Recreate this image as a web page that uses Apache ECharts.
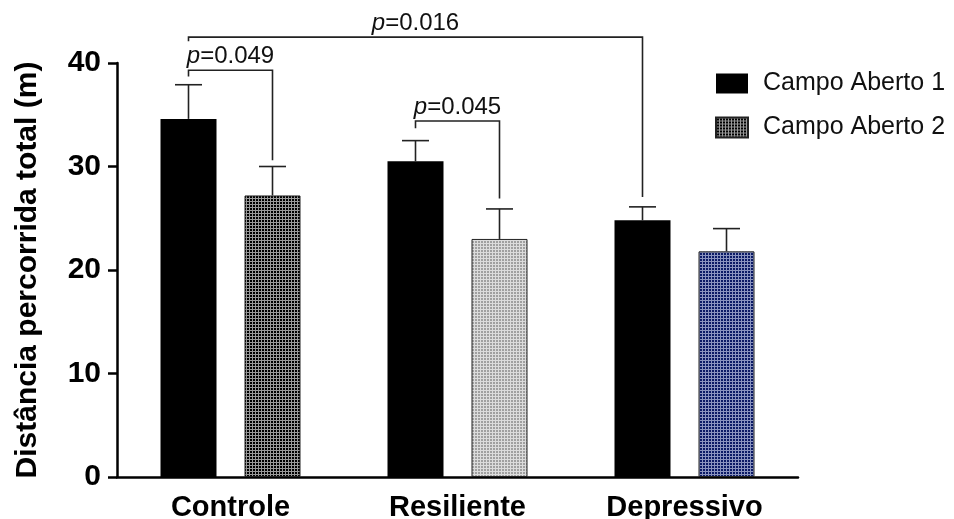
<!DOCTYPE html>
<html>
<head>
<meta charset="utf-8">
<script src="https://cdn.jsdelivr.net/npm/echarts@6/dist/echarts.min.js"></script>
<style>
  html, body { margin: 0; padding: 0; background: #fff; }
  #chart { width: 954px; height: 519px; }
</style>
</head>
<body>
<div id="chart"></div>
<script>
// Group labels and series values (distance in metres, mean and SEM)
var categories = ['Controle', 'Resiliente', 'Depressivo'];
var seriesNames = ['Campo Aberto 1', 'Campo Aberto 2'];
var campo1Mean = [34.6, 30.5, 24.8];
var campo1Sem = [3.3, 2.0, 1.3];
var campo2Mean = [27.2, 23.0, 21.8];
var campo2Sem = [2.8, 2.9, 2.2];
var yTicks = [0, 10, 20, 30, 40];

// Significance brackets: [category, bar] at each end, bracket level, leg ends, label
var bracketFrom = [[0, 0], [1, 0], [0, 0]];
var bracketTo = [[0, 1], [1, 1], [2, 0]];
var bracketLevel = [39.3, 34.4, 42.5];
var bracketFromEnd = [38.7, 33.7, 42.1];
var bracketToEnd = [30.6, 26.9, 27.05];
var bracketText = ['0.049', '0.045', '0.016'];

var FONT = '"Liberation Sans", Arial, Helvetica, sans-serif';
var BAR_W = 56;
var BAR_OFFSET = 42; // half of bar width plus half of the gap between paired bars

// Dotted checker fill used for the second session bars
function checker(fg, mid, bg) {
  var c = document.createElement('canvas');
  c.width = 3; c.height = 3;
  var ctx = c.getContext('2d');
  ctx.fillStyle = bg;
  ctx.fillRect(0, 0, 3, 3);
  ctx.fillStyle = mid;
  ctx.fillRect(0, 0, 3, 1);
  ctx.fillRect(0, 0, 1, 3);
  ctx.fillStyle = fg;
  ctx.fillRect(1, 1, 2, 2);
  return { image: c, repeat: 'repeat' };
}
var fillControle = checker('#000000', '#9a9a9a', '#ffffff');
var fillResiliente = checker('#a0a0a0', '#dcdcdc', '#ffffff');
var fillDepressivo = checker('#0b1a66', '#8a93bf', '#ffffff');
var campo2Fills = [fillControle, fillResiliente, fillDepressivo];

var chart = echarts.init(document.getElementById('chart'));

var errorData = [];
for (var k = 0; k < categories.length; k++) {
  errorData.push([k, 0, campo1Mean[k], campo1Sem[k]]);
  errorData.push([k, 1, campo2Mean[k], campo2Sem[k]]);
}

var bracketData = bracketText.map(function (t, i) {
  return [bracketFrom[i][0], bracketFrom[i][1], bracketTo[i][0], bracketTo[i][1],
          bracketLevel[i], bracketFromEnd[i], bracketToEnd[i], i];
});

function barX(api, cat, side) {
  var p = api.coord([cat, 0]);
  return p[0] + (side === 0 ? -BAR_OFFSET : BAR_OFFSET);
}

chart.setOption({
  animation: false,
  backgroundColor: '#ffffff',
  textStyle: { fontFamily: FONT },
  grid: { left: 117, right: 156, top: 63, bottom: 42, containLabel: false, outerBoundsMode: 'none' },
  legend: {
    orient: 'vertical',
    left: 715,
    top: 71,
    padding: 0,
    itemWidth: 32,
    itemHeight: 20,
    itemGap: 19,
    selectedMode: false,
    icon: 'rect',
    data: seriesNames,
    textStyle: { fontFamily: FONT, fontSize: 25, color: '#111', padding: [0, 0, 0, 10] }
  },
  xAxis: {
    type: 'category',
    data: categories,
    axisLine: { lineStyle: { color: '#000', width: 2.5 } },
    axisTick: { alignWithLabel: true, length: 8, lineStyle: { color: '#000', width: 2 } },
    axisLabel: { fontFamily: FONT, fontSize: 29, fontWeight: 'bold', color: '#000', margin: 16 }
  },
  yAxis: {
    type: 'value',
    min: yTicks[0],
    max: yTicks[yTicks.length - 1],
    interval: 10,
    name: 'Distância percorrida total (m)',
    nameLocation: 'middle',
    nameGap: 74,
    nameTextStyle: { fontFamily: FONT, fontSize: 30, fontWeight: 'bold', color: '#000' },
    axisLine: { show: true, lineStyle: { color: '#000', width: 2.5 } },
    axisTick: { show: true, length: 9, lineStyle: { color: '#000', width: 2.5 } },
    axisLabel: { fontFamily: FONT, fontSize: 30, fontWeight: 'bold', color: '#000', margin: 16 },
    splitLine: { show: false }
  },
  series: [
    {
      name: seriesNames[0],
      type: 'bar',
      barWidth: BAR_W,
      barGap: '50%',
      data: campo1Mean,
      itemStyle: { color: '#000000' }
    },
    {
      name: seriesNames[1],
      type: 'bar',
      barWidth: BAR_W,
      data: campo2Mean.map(function (v, i) {
        return { value: v, itemStyle: { color: campo2Fills[i] } };
      }),
      itemStyle: { color: fillControle, borderColor: '#222', borderWidth: 1 }
    },
    {
      name: 'sem',
      type: 'custom',
      clip: false,
      z: 5,
      data: errorData,
      encode: { x: 0, y: 2 },
      renderItem: function (params, api) {
        var cat = api.value(0), side = api.value(1);
        var mean = api.value(2), sem = api.value(3);
        var x = barX(api, cat, side);
        var y0 = api.coord([cat, mean])[1];
        var y1 = api.coord([cat, mean + sem])[1];
        var style = { stroke: '#222', lineWidth: 1.6, fill: null };
        return {
          type: 'group',
          children: [
            { type: 'line', shape: { x1: x, y1: y0, x2: x, y2: y1 }, style: style },
            { type: 'line', shape: { x1: x - 13.5, y1: y1, x2: x + 13.5, y2: y1 }, style: style }
          ]
        };
      }
    },
    {
      name: 'brackets',
      type: 'custom',
      clip: false,
      z: 6,
      data: bracketData,
      encode: { x: 0, y: 4 },
      renderItem: function (params, api) {
        var xa = barX(api, api.value(0), api.value(1));
        var xb = barX(api, api.value(2), api.value(3));
        var cat = api.value(0);
        var yl = api.coord([cat, api.value(4)])[1];
        var ya = api.coord([cat, api.value(5)])[1];
        var yb = api.coord([cat, api.value(6)])[1];
        var idx = api.value(7);
        return {
          type: 'group',
          children: [
            {
              type: 'polyline',
              shape: { points: [[xa, ya], [xa, yl], [xb, yl], [xb, yb]] },
              style: { stroke: '#222', lineWidth: 1.6, fill: null }
            },
            {
              type: 'text',
              style: {
                x: (xa + xb) / 2,
                y: yl - 2,
                text: '{i|p}=' + bracketText[idx],
                align: 'center',
                verticalAlign: 'bottom',
                fontFamily: FONT,
                fontSize: 24,
                fill: '#111',
                rich: { i: { fontStyle: 'italic', fontFamily: FONT, fontSize: 24, fill: '#111' } }
              }
            }
          ]
        };
      }
    }
  ]
});
</script>
</body>
</html>
